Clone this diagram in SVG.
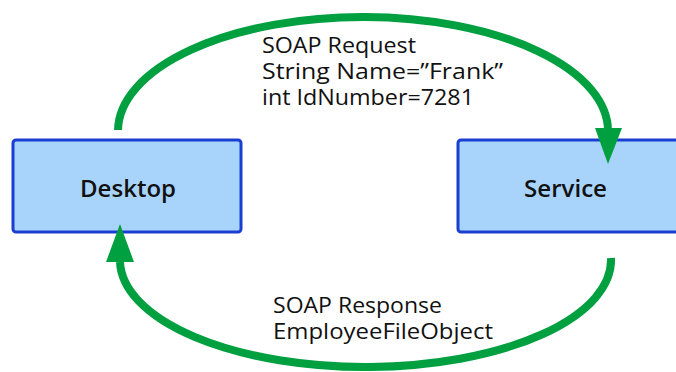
<svg xmlns="http://www.w3.org/2000/svg" width="676" height="372" viewBox="0 0 676 372">
<style>
.box{fill:#a8d4fc;stroke:#1a3fd0;stroke-width:3}
.lbl{font-family:"Open Sans","Liberation Sans",sans-serif;font-size:23px;font-weight:600;fill:#111}
.txt{font-family:"Open Sans","Liberation Sans",sans-serif;font-size:21px;fill:#111}
.arc{fill:none;stroke:#00a040;stroke-width:8}
.head{fill:#00a040}
</style>
<rect width="676" height="372" fill="#fff"/>
<g id="desktop">
<rect class="box" x="13" y="140" width="228" height="92" rx="3"/>
<text class="lbl" x="80" y="197" textLength="96" lengthAdjust="spacingAndGlyphs">Desktop</text>
</g>
<g id="service">
<rect class="box" x="458" y="140" width="230" height="92" rx="3"/>
<text class="lbl" x="524" y="197" textLength="83" lengthAdjust="spacingAndGlyphs">Service</text>
</g>
<g id="connectors">
<path class="arc" d="M118,130 A245,114 0 0 1 608,132"/>
<polygon class="head" points="595,128 622,128 608,164"/>
<path class="arc" d="M611,258 A245.5,107 0 0 1 120,262"/>
<polygon class="head" points="106,262 134,262 120,224"/>
</g>
<g id="labels">
<text class="txt" x="262" y="53" textLength="154" lengthAdjust="spacingAndGlyphs">SOAP Request</text>
<text class="txt" x="262" y="79" textLength="241" lengthAdjust="spacingAndGlyphs">String Name=”Frank”</text>
<text class="txt" x="262" y="105" textLength="212" lengthAdjust="spacingAndGlyphs">int IdNumber=7281</text>
<text class="txt" x="273" y="313" textLength="169" lengthAdjust="spacingAndGlyphs">SOAP Response</text>
<text class="txt" x="273" y="339" textLength="220" lengthAdjust="spacingAndGlyphs">EmployeeFileObject</text>
</g>
</svg>
